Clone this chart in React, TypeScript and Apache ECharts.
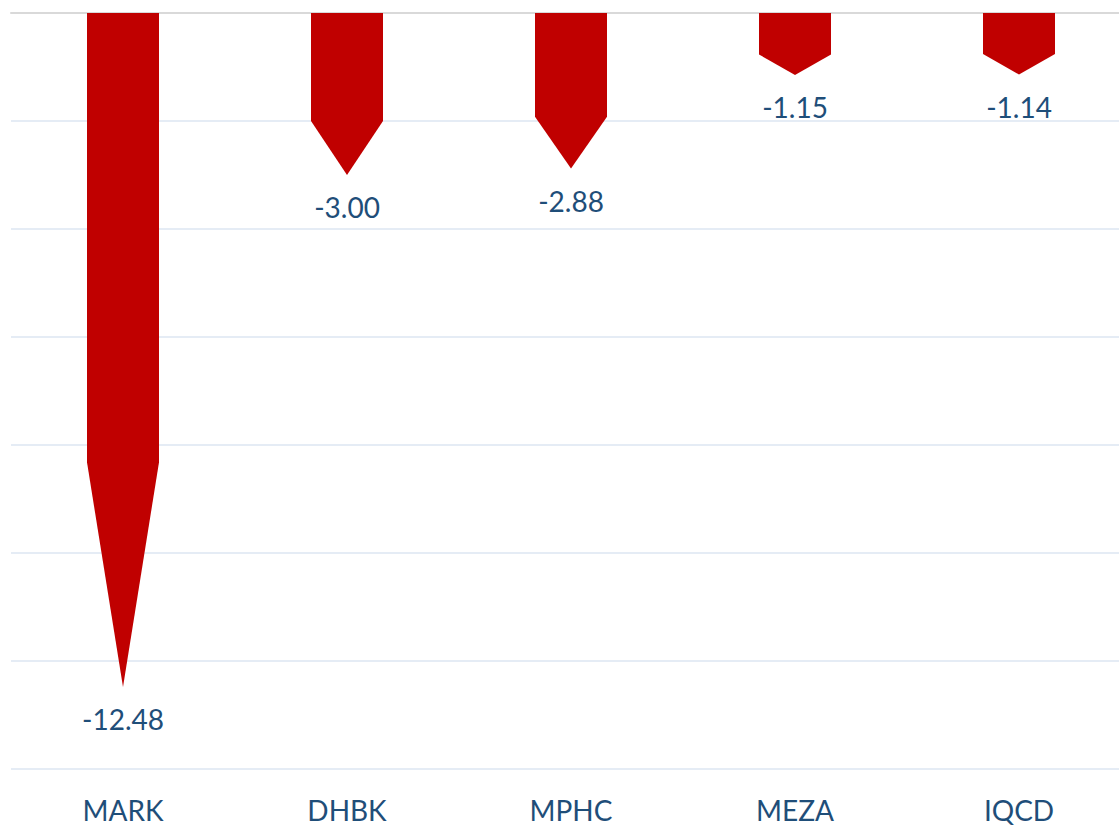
import React, { useEffect, useRef } from "react";
import * as echarts from "echarts";

const categories = ["MARK", "DHBK", "MPHC", "MEZA", "IQCD"];
const values = [-12.48, -3.0, -2.88, -1.15, -1.14];
const yMin = -14;
const yMax = 0;
const yInterval = 2;

const BAR_COLOR = "#c00000";
const TEXT_COLOR = "#1f4e79";
const FONT = "Lato, 'Open Sans', sans-serif";

export default function App() {
  const ref = useRef<HTMLDivElement>(null);

  useEffect(() => {
    if (!ref.current) return;
    const chart = echarts.init(ref.current, null, { renderer: "svg" });

    const option: any = {
      animation: false,
      backgroundColor: "#ffffff",
      grid: { left: 11, top: 13, right: 0, bottom: 57, containLabel: false },
      xAxis: [
        {
          type: "category",
          data: categories,
          position: "bottom",
          axisLine: { show: false },
          axisTick: { show: false },
          splitLine: { show: false },
          axisLabel: {
            color: TEXT_COLOR,
            fontFamily: FONT,
            fontSize: 28,
            margin: 41,
            verticalAlign: "middle",
            lineHeight: 28,
          },
        },
        {
          type: "category",
          data: categories,
          position: "top",
          axisLine: { show: true, lineStyle: { color: "#d9d9d9", width: 2 } },
          axisTick: { show: false },
          axisLabel: { show: false },
          splitLine: { show: false },
        },
      ],
      yAxis: {
        type: "value",
        min: yMin,
        max: yMax,
        interval: yInterval,
        axisLine: { show: false },
        axisTick: { show: false },
        axisLabel: { show: false },
        splitLine: { show: true, lineStyle: { color: "#dce6f2", width: 1.5 } },
      },
      series: [
        {
          type: "custom",
          xAxisIndex: 0,
          data: values.map((v, i) => [i, v]),
          renderItem: (params: any, api: any) => {
            const idx = api.value(0);
            const val = api.value(1);
            const p0 = api.coord([idx, 0]);
            const p1 = api.coord([idx, val]);
            const band = api.size([1, 0])[0];
            const w = (band * 72) / 224;
            const x = p0[0];
            const y0 = p0[1];
            const y1 = p1[1];
            const ym = y0 + ((y1 - y0) * 2) / 3;
            return {
              type: "group",
              children: [
                {
                  type: "polygon",
                  shape: {
                    points: [
                      [x - w / 2, y0],
                      [x + w / 2, y0],
                      [x + w / 2, ym],
                      [x, y1],
                      [x - w / 2, ym],
                    ],
                  },
                  style: { fill: BAR_COLOR },
                },
                {
                  type: "text",
                  x: x,
                  y: y1 + 32,
                  style: {
                    text: val.toFixed(2),
                    fill: TEXT_COLOR,
                    font: `28px ${FONT}`,
                    align: "center",
                    verticalAlign: "middle",
                  },
                },
              ],
            };
          },
        },
      ],
    };

    chart.setOption(option);
    return () => chart.dispose();
  }, []);

  return (
    <div
      ref={ref}
      style={{ position: "fixed", left: 0, top: 0, width: 1131, height: 826 }}
    />
  );
}
